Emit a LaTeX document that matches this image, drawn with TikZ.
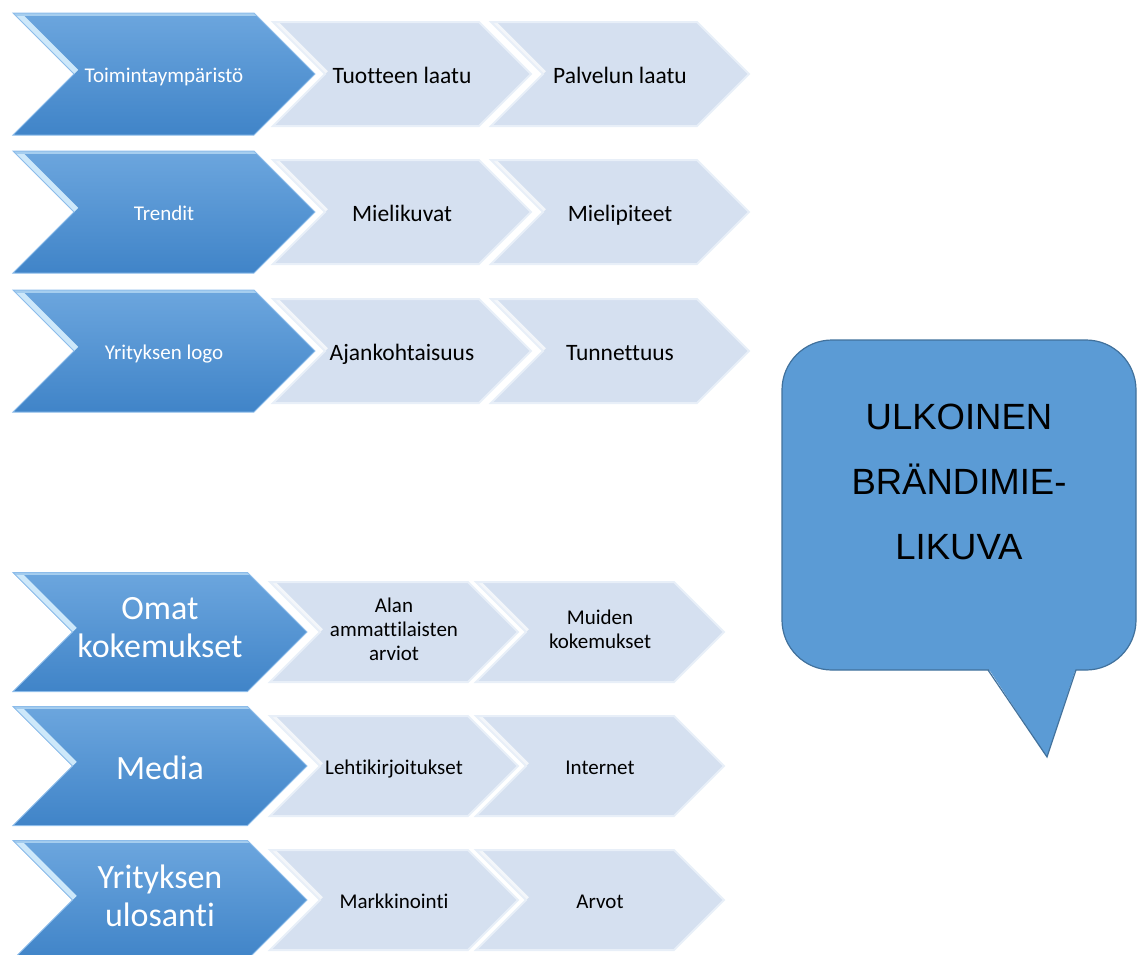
\documentclass[tikz,border=0pt]{standalone}
\usepackage{fontspec}
\setmainfont{Carlito}[Ligatures=NoCommon]
\newfontfamily\calloutfont{Liberation Sans}
\usetikzlibrary{shapes.symbols}
\definecolor{chevtop}{RGB}{108,166,222}
\definecolor{chevbottom}{RGB}{64,132,200}
\definecolor{chevedge}{RGB}{140,188,234}
\definecolor{chevbevel}{RGB}{205,232,250}
\definecolor{palefill}{RGB}{213,224,240}
\definecolor{paleedge}{RGB}{232,239,248}
\definecolor{calloutblue}{RGB}{91,155,213}
\definecolor{calloutedge}{RGB}{65,113,156}

\newcommand{\chevstrut}{\rule[-0.25em]{0pt}{1.3em}}

\tikzset{
  chevron/.style={signal, signal to=east, signal from=west, signal pointer angle=90, inner sep=0pt, align=center,
    execute at begin node=\chevstrut, execute at end node=\chevstrut},
  bigchev/.style={chevron, top color=chevtop, bottom color=chevbottom, draw=chevedge, line width=1pt, text=white,
    path picture={
      \draw[chevbevel, line width=12pt] (path picture bounding box.north west) -- ++(#1,#1);
      \draw[chevbevel!60!chevtop, line width=5pt] (path picture bounding box.north west) -- (path picture bounding box.north east);
    }},
  palechev/.style={chevron, fill=palefill, draw=paleedge, line width=2pt, text=black,
    path picture={
      \draw[white!70!palefill, line width=8pt] (path picture bounding box.north west) -- ++(#1,#1);
    }},
  bigupper/.style={bigchev=61, minimum width=302pt, minimum height=122pt, font=\fontsize{21}{25}\selectfont},
  paleupper/.style={palechev=52, minimum width=258pt, minimum height=104pt, font=\fontsize{23.5}{28}\selectfont},
  biglower/.style={bigchev=59.5, minimum width=294pt, minimum height=119pt, font=\fontsize{34}{38}\selectfont},
  palelower/.style={palechev=50, minimum width=248pt, minimum height=100pt, font=\fontsize{21}{24}\selectfont},
}

\begin{document}
\begin{tikzpicture}[x=1pt, y=-1pt]
            \useasboundingbox (0,0) rectangle (1137,954);

            % Upper group
            \node[paleupper] (tuote) at (402,74) {Tuotteen laatu};
            \node[paleupper] (palvelu) at (620,74) {Palvelun laatu};
            \node[bigupper] (toimi) at (164,74) {Toimintaympäristö};

            \node[paleupper] (mieliku) at (402,212) {Mielikuvat};
            \node[paleupper] (mielipi) at (620,212) {Mielipiteet};
            \node[bigupper] (trendit) at (164,212) {Trendit};

            \node[paleupper] (ajank) at (402,351) {Ajankohtaisuus};
            \node[paleupper] (tunnet) at (620,351) {Tunnettuus};
            \node[bigupper] (logo) at (164,351) {Yrityksen logo};

            % Lower group
            \node[palelower] (alan) at (394,632) {Alan\\ammattilaisten\\arviot};
            \node[palelower] (muiden) at (600,632) {Muiden\\kokemukset};
            \node[biglower] (omat) at (160,632) {Omat\\kokemukset};

            \node[palelower] (lehti) at (394,766) {Lehtikirjoitukset};
            \node[palelower] (netti) at (600,766) {Internet};
            \node[biglower] (media) at (160,766) {Media};

            \node[palelower] (markk) at (394,900) {Markkinointi};
            \node[palelower] (arvot) at (600,900) {Arvot};
            \node[biglower] (ulos) at (160,900) {Yrityksen\\ulosanti};

            % Speech bubble
            \draw[fill=calloutblue, draw=calloutedge, line width=1.2pt, rounded corners=50pt] (782,340) rectangle (1136,670);
            \fill[calloutblue] (988,668) -- (1047,757) -- (1076,668) -- cycle;
            \draw[calloutedge, line width=1.2pt] (988,670) -- (1047,757) -- (1076,670);
            \node[align=center, font=\calloutfont\fontsize{36.5}{65}\selectfont] (ulkoinen) at (959,482) {ULKOINEN\\BRÄNDIMIE-\\LIKUVA};
        \end{tikzpicture}
\end{document}
